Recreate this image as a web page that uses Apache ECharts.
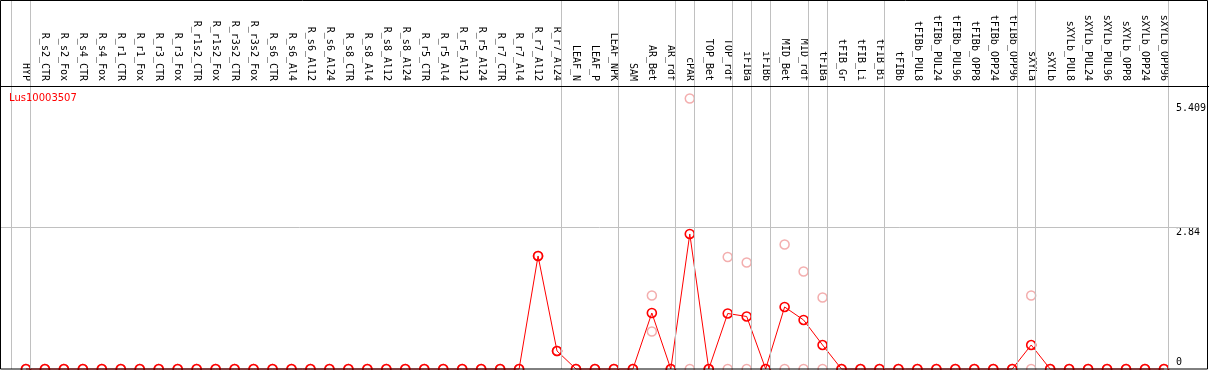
<!DOCTYPE html>
<html>
<head>
<meta charset="utf-8">
<script src="https://cdn.jsdelivr.net/npm/echarts@6/dist/echarts.min.js"></script>
<style>
html,body{margin:0;padding:0;background:#fff;}
#chart{width:1209px;height:370px;}
</style>
</head>
<body>
<div id="chart"></div>
<script>
// ---- data ----
const geneName = 'Lus10003507';
const categories = ['HYP','R_s2_CTR','R_s2_Fox','R_s4_CTR','R_s4_Fox','R_r1_CTR','R_r1_Fox','R_r3_CTR','R_r3_Fox',
  'R_r1s2_CTR','R_r1s2_Fox','R_r3s2_CTR','R_r3s2_Fox','R_s6_CTR','R_s6_Al4','R_s6_Al12','R_s6_Al24',
  'R_s8_CTR','R_s8_Al4','R_s8_Al12','R_s8_Al24','R_r5_CTR','R_r5_Al4','R_r5_Al12','R_r5_Al24',
  'R_r7_CTR','R_r7_Al4','R_r7_Al12','R_r7_Al24','LEAF_N','LEAF_P','LEAF_NPK','SAM','AR_Bet','AR_rdf',
  'cPAR','TOP_Bet','TOP_rdf','iFIBa','iFIBb','MID_Bet','MID_rdf','tFIBa','tFIB_Gr','tFIB_Li','tFIB_Bi',
  'tFIBb','tFIBb_PUL8','tFIBb_PUL24','tFIBb_PUL96','tFIBb_OPP8','tFIBb_OPP24','tFIBb_OPP96',
  'sXYLa','sXYLb','sXYLb_PUL8','sXYLb_PUL24','sXYLb_PUL96','sXYLb_OPP8','sXYLb_OPP24','sXYLb_OPP96'];
// mean expression per sample
const meanValues = [0,0,0,0,0,0,0,0,0, 0,0,0,0,0,0,0,0, 0,0,0,0,0,0,0,0, 0,0,2.26,0.36,0,0,0,0,1.12,0,
  2.70,0,1.11,1.05,0,1.24,0.98,0.48,0,0,0, 0,0,0,0,0,0,0, 0.48,0,0,0,0,0,0,0];
// replicate values (pale circles)
const rep1Values = [0,0,0,0,0,0,0,0,0, 0,0,0,0,0,0,0,0, 0,0,0,0,0,0,0,0, 0,0,2.26,0.36,0,0,0,0,1.47,0,
  5.409,0,2.24,2.13,0,2.49,1.95,1.43,0,0,0, 0,0,0,0,0,0,0, 1.47,0,0,0,0,0,0,0];
const rep2Values = [0,0,0,0,0,0,0,0,0, 0,0,0,0,0,0,0,0, 0,0,0,0,0,0,0,0, 0,0,2.26,0.36,0,0,0,0,0.75,0,
  0,0,0,0,0,0,0,0,0,0,0, 0,0,0,0,0,0,0, 0,0,0,0,0,0,0,0];
// index of the last sample in each group (separator lines), -1 = before first
const groupEnds = [-1,0,28,31,34,35,37,38,39,41,42,45,52,53,60];
const yTickValues = [0, 2.84, 5.409];
const yTickLabels = ['0', '2.84', '5.409'];
const yMaxValue = 5.409;

// ---- layout ----
const W = 1209, H = 370;
const plotBottom = 369, maxPix = 98.5;           // pixel rows of 0 and max value
const firstX = 26, stepX = 19, gridRight = 1201;  // px of first sample, spacing
const headerY = 86;
const xMin = -firstX / stepX, xMax = (gridRight - firstX) / stepX;
const yMax = yMaxValue * plotBottom / (plotBottom - maxPix);
const sepOffset = 0.24;

const idx = categories.map((c, i) => i);
const toPts = arr => arr.map((v, i) => [i, v]);

const chart = echarts.init(document.getElementById('chart'), null, {renderer: 'canvas'});
chart.setOption({
  animation: false,
  backgroundColor: '#fff',
  title: {
    text: geneName, left: 9, top: 93, padding: 0,
    textStyle: {color: '#ff0000', fontFamily: 'DejaVu Sans', fontSize: 10, fontWeight: 'normal'}
  },
  grid: {left: 0, right: W - gridRight, top: 0, bottom: H - plotBottom, containLabel: false},
  xAxis: {
    type: 'value', min: xMin, max: xMax, position: 'top', offset: -headerY,
    axisLine: {show: true, onZero: false, lineStyle: {color: '#000', width: 1}},
    axisTick: {show: false},
    splitLine: {show: false},
    axisLabel: {
      customValues: idx, rotate: 90, margin: 5,
      formatter: v => categories[Math.round(v)] || '',
      fontFamily: 'DejaVu Sans Mono', fontSize: 10, color: '#000'
    }
  },
  yAxis: {
    type: 'value', position: 'right', min: 0, max: yMax,
    axisLine: {show: false}, axisTick: {show: false}, splitLine: {show: false},
    axisLabel: {
      customValues: yTickValues, inside: true, align: 'left', margin: gridRight - 1178,
      fontFamily: 'DejaVu Sans Mono', fontSize: 10, color: '#000',
      formatter: v => {
        const k = yTickValues.indexOf(v);
        const s = yTickLabels[k];
        return k === 0 ? '{lo|' + s + '}' : (k === 2 ? '{hi|' + s + '}' : '{mid|' + s + '}');
      },
      rich: {
        lo: {fontFamily: 'DejaVu Sans Mono', fontSize: 10, padding: [0, 0, 14, 0]},
        mid: {fontFamily: 'DejaVu Sans Mono', fontSize: 10, padding: [10, 0, 0, 0]},
        hi: {fontFamily: 'DejaVu Sans Mono', fontSize: 10, padding: [19, 0, 0, 0]}
      }
    }
  },
  series: [
    {
      type: 'line', name: 'guides', data: [], silent: true,
      markLine: {
        silent: true, symbol: 'none', animation: false,
        label: {show: false},
        lineStyle: {color: '#c0c0c0', width: 1, type: 'solid'},
        emphasis: {disabled: true},
        data: groupEnds.map(i => ({xAxis: i + sepOffset})).concat([{yAxis: yTickValues[1]}])
      }
    },
    {
      type: 'scatter', name: 'rep2', data: toPts(rep2Values), symbol: 'circle', symbolSize: 9,
      itemStyle: {color: 'rgba(0,0,0,0)', borderColor: '#f09a9a', borderWidth: 1.5}, silent: true, z: 3
    },
    {
      type: 'scatter', name: 'rep1', data: toPts(rep1Values), symbol: 'circle', symbolSize: 9,
      itemStyle: {color: 'rgba(0,0,0,0)', borderColor: '#f09a9a', borderWidth: 1.5}, silent: true, z: 3
    },
    {
      type: 'line', name: 'mean', data: toPts(meanValues), symbol: 'circle', symbolSize: 9,
      showAllSymbol: true, clip: false,
      lineStyle: {color: '#ff0000', width: 1},
      itemStyle: {color: 'rgba(0,0,0,0)', borderColor: '#ff0000', borderWidth: 1.6},
      silent: true, z: 4
    }
  ],
  graphic: [
    {type: 'line', shape: {x1: 0, y1: headerY + 0.5, x2: W, y2: headerY + 0.5},
     style: {stroke: '#000', lineWidth: 1}, silent: true, z: 100},
    {type: 'rect', shape: {x: 0.5, y: 0.5, width: W - 2, height: H - 1.5},
     style: {fill: 'none', stroke: '#000', lineWidth: 1}, silent: true, z: 100}
  ]
});
</script>
</body>
</html>
